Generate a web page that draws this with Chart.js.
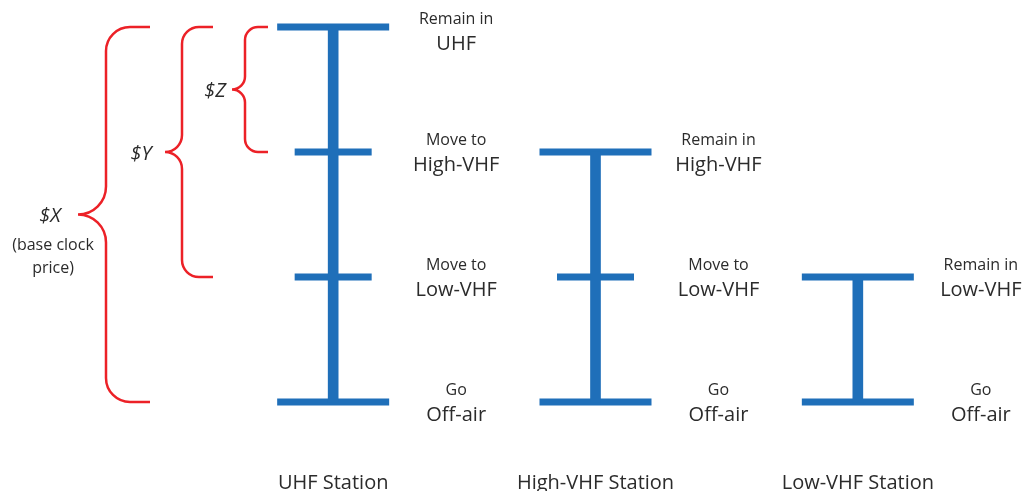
<!DOCTYPE html>
<html>
<head>
<meta charset="utf-8">
<script src="https://cdn.jsdelivr.net/npm/chart.js@4.4.1/dist/chart.umd.min.js"></script>
<style>
  html, body { margin: 0; padding: 0; background: #fff; }
  #wrap { width: 1025px; height: 491px; }
</style>
</head>
<body>
<div id="wrap"><canvas id="chart"></canvas></div>
<script>
const stations = ['UHF Station', 'High-VHF Station', 'Low-VHF Station'];
const bands = ['Off-air', 'Low-VHF', 'High-VHF', 'UHF']; // level 0..3
const stationTop = [3, 2, 1];      // highest band each station may stay in
const priceLabels = ['$X', '$Y', '$Z'];
const priceFloor = [0, 1, 2];      // brace runs from this level up to UHF
const priceNote = ['(base clock', 'price)'];

const blue = '#1f6fb9';
const red = '#ec2127';
const ink = '#2b2b2b';
const font = '"Open Sans", "Noto Sans", sans-serif';

// vertical ranges, one floating bar per station
const ranges = stationTop.map(t => [0, t]);

// caps and option ticks
const ticks = [];
const tickRadius = [];
stations.forEach((s, i) => {
  for (let lv = 0; lv <= stationTop[i]; lv++) {
    ticks.push({ x: s, y: lv });
    tickRadius.push(lv === 0 || lv === stationTop[i] ? 56 : 38.5);
  }
});

function actionWord(lv, top) {
  if (lv === 0) return 'Go';
  return lv === top ? 'Remain in' : 'Move to';
}

// brace shape, pixels
const braceGeom = [
  { spine: 106, tip: 150, point: 78, r: 24, tx: 50, ty: 216 },
  { spine: 182, tip: 213, point: 165, r: 17, tx: 141, ty: 154 },
  { spine: 245, tip: 268, point: 232, r: 13, tx: 215, ty: 91 }
];

const annotations = {
  id: 'annotations',
  afterDatasetsDraw(chart) {
    const { ctx, scales: { x, y } } = chart;
    ctx.save();
    ctx.fillStyle = ink;
    ctx.textAlign = 'center';
    ctx.textBaseline = 'middle';

    // option labels right of each tick
    stations.forEach((s, i) => {
      const cx = x.getPixelForValue(i) + 123;
      for (let lv = 0; lv <= stationTop[i]; lv++) {
        const py = y.getPixelForValue(lv);
        const smallY = Math.max(py - 12, 19);
        ctx.font = '16px ' + font;
        ctx.fillText(actionWord(lv, stationTop[i]), cx, smallY);
        ctx.font = '20px ' + font;
        ctx.fillText(bands[lv], cx, smallY + 25);
      }
    });

    // price braces
    const yTop = y.getPixelForValue(3);
    ctx.strokeStyle = red;
    ctx.lineWidth = 2.5;
    priceFloor.forEach((f, i) => {
      const g = braceGeom[i];
      const yBot = y.getPixelForValue(f);
      const mid = (yTop + yBot) / 2;
      const m = g.spine - g.point;
      ctx.beginPath();
      ctx.moveTo(g.tip, yTop);
      ctx.arcTo(g.spine, yTop, g.spine, yTop + g.r, g.r);
      ctx.lineTo(g.spine, mid - m);
      ctx.arcTo(g.spine, mid, g.point, mid, m);
      ctx.arcTo(g.spine, mid, g.spine, mid + m, m);
      ctx.lineTo(g.spine, yBot - g.r);
      ctx.arcTo(g.spine, yBot, g.spine + g.r, yBot, g.r);
      ctx.lineTo(g.tip, yBot);
      ctx.stroke();

      ctx.font = 'italic 20px ' + font;
      ctx.fillText(priceLabels[i], g.tx, g.ty);
    });
    ctx.font = '16px ' + font;
    ctx.fillText(priceNote[0], 53, 245);
    ctx.fillText(priceNote[1], 53, 268);
    ctx.restore();
  }
};

new Chart(document.getElementById('chart'), {
  type: 'bar',
  data: {
    labels: stations,
    datasets: [
      {
        data: ranges,
        backgroundColor: blue,
        barThickness: 10,
        clip: false
      },
      {
        type: 'line',
        data: ticks,
        showLine: false,
        pointStyle: 'line',
        pointRadius: tickRadius,
        pointBorderWidth: 7,
        pointBorderColor: blue,
        clip: false
      }
    ]
  },
  options: {
    responsive: true,
    maintainAspectRatio: false,
    animation: false,
    events: [],
    layout: { autoPadding: false, padding: { left: 202, right: 36, top: 27, bottom: 0 } },
    plugins: { legend: { display: false }, tooltip: { enabled: false } },
    scales: {
      x: {
        offset: true,
        grid: { display: false, drawTicks: false },
        border: { display: false },
        ticks: { padding: 69, color: ink, font: { family: font, size: 20 } },
        afterFit(scale) { scale.height = 89; }
      },
      y: { display: false, min: 0, max: 3 }
    }
  },
  plugins: [annotations]
});
</script>
</body>
</html>
